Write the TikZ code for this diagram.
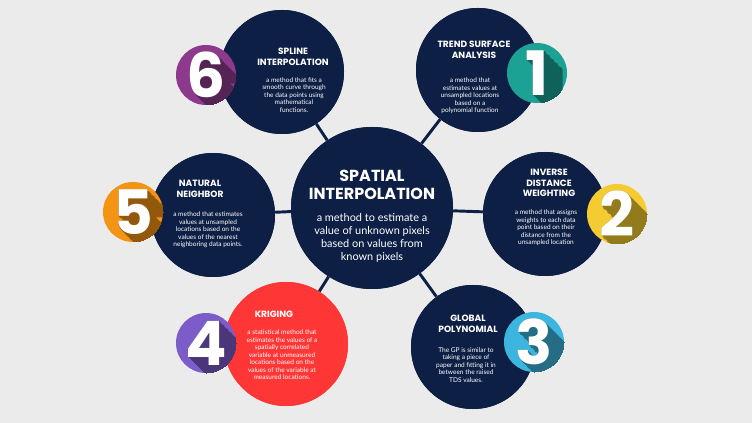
\documentclass[tikz,border=0pt]{standalone}
\usepackage{fontspec}
\setmainfont{Poppins}
\newfontfamily\bodyf{Lato}
\definecolor{bg}{HTML}{EBEBEB}
\definecolor{navy}{HTML}{0E1F45}
\definecolor{cpur}{HTML}{8E3A8C}
\definecolor{cteal}{HTML}{1BA295}
\definecolor{corange}{HTML}{F39414}
\definecolor{cyellow}{HTML}{F4CB31}
\definecolor{cviolet}{HTML}{7B5CC9}
\definecolor{ccyan}{HTML}{3CB6DE}
\definecolor{cred}{HTML}{FF3636}
\tikzset{
 bub/.style={circle,fill=navy,minimum size=124*0.75pt,inner sep=0pt},
 hub/.style={circle,fill=navy,minimum size=162*0.75pt,inner sep=0pt},
 link/.style={navy,line width=2.2pt},
 ttl/.style={text=white,font=\fontsize{6.8}{7.8}\selectfont\bfseries,align=center},
 txt/.style={text=white,font=\bodyf\fontsize{4.9}{5.6}\selectfont,align=center},
 numc/.style={circle,minimum size=60*0.75pt,inner sep=0pt},
}
\newcommand{\numbadge}[4]{% name, pos, color, digit
  \node[numc,fill=#3] (#1) at (#2) {};
  \begin{scope}
   \clip (#2) circle (30*0.75pt);
   \foreach \k in {0,...,24}{\node[text=#3!60!black,font=\fontsize{46}{46}\selectfont\bfseries] at ($(#2)+(\k*0.6pt,-\k*0.6pt)$) {#4};}
  \end{scope}
  \node[text=white,font=\fontsize{46}{46}\selectfont\bfseries] at (#2) {#4};
}
\usetikzlibrary{calc}
\begin{document}
\begin{tikzpicture}[x=0.75pt,y=-0.75pt]
\fill[bg] (0,0) rectangle (752,423);
\node[hub] (c) at (372,208) {};
\node[bub] (b6) at (282,72) {};
\node[bub] (b1) at (478,70) {};
\node[bub] (b5) at (213,215) {};
\node[bub] (b2) at (545,214) {};
\node[bub,fill=cred] (b4) at (286,344) {};
\node[bub] (b3) at (473,347) {};
\foreach \b in {b6,b1,b5,b2,b4,b3}{\draw[link] (c) -- (\b);}
\node[hub] at (c) {};
\node[bub] at (b6) {};\node[bub] at (b1) {};\node[bub] at (b5) {};
\node[bub] at (b2) {};\node[bub] at (b3) {};\node[bub,fill=cred] at (b4) {};
\node[text=white,font=\fontsize{12}{14}\selectfont\bfseries,align=center] (ct) at (372,185) {SPATIAL\\INTERPOLATION};
\node[text=white,font=\bodyf\fontsize{8.2}{9.6}\selectfont,align=center] (cb) at (372,238) {a method to estimate a\\value of unknown pixels\\based on values from\\known pixels};
% 6
\node[ttl] (t6) at (293,57) {SPLINE\\INTERPOLATION};
\node[txt] (d6) at (294,95) {a method that fits a\\smooth curve through\\the data points using\\mathematical\\functions.};
\numbadge{n6}{206,75}{cpur}{6}
% 1
\node[ttl] (t1) at (474,50) {TREND SURFACE\\ANALYSIS};
\node[txt] (d1) at (470,96) {a method that\\estimates values at\\unsampled locations\\based on a\\polynomial function};
\numbadge{n1}{537,73}{cteal}{1}
% 5
\node[ttl] (t5) at (200,189) {NATURAL\\NEIGHBOR};
\node[txt] (d5) at (208,230) {a method that estimates\\values at unsampled\\locations based on the\\values of the nearest\\neighboring data points.};
\numbadge{n5}{133,212}{corange}{5}
% 2
\node[ttl] (t2) at (549,183) {INVERSE\\DISTANCE\\WEIGHTING};
\node[txt] (d2) at (546,228) {a method that assigns\\weights to each data\\point based on their\\distance from the\\unsampled location};
\numbadge{n2}{617,214}{cyellow}{2}
% 4
\node[ttl] (t4) at (274,314) {KRIGING};
\node[txt] (d4) at (282,355) {a statistical method that\\estimates the values of a\\spatially correlated\\variable at unmeasured\\locations based on the\\values of the variable at\\measured locations.};
\numbadge{n4}{206,343}{cviolet}{4}
% 3
\node[ttl] (t3) at (468,324) {GLOBAL\\POLYNOMIAL};
\node[txt] (d3) at (466,365) {The GP is similar to\\taking a piece of\\paper and fitting it in\\between the raised\\TDS values.};
\numbadge{n3}{534,342}{ccyan}{3}
\end{tikzpicture}
\end{document}
